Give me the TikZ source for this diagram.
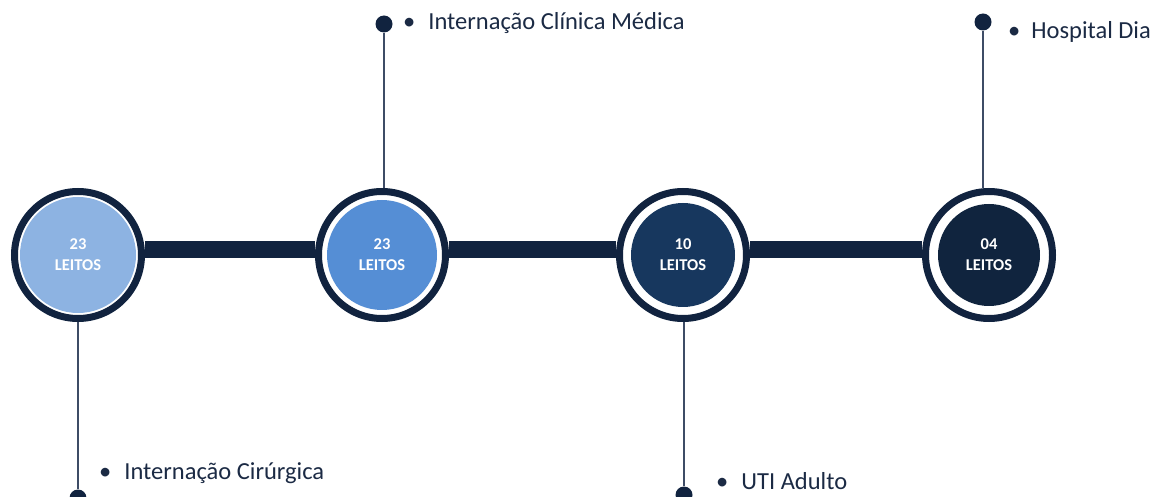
\documentclass[tikz,border=0pt]{standalone}
\usepackage{fontspec}
\setmainfont{Carlito}
\definecolor{navy}{HTML}{11233F}
\definecolor{stemcol}{HTML}{3E4C66}
\definecolor{labelcol}{HTML}{1B2A44}
\definecolor{fillA}{HTML}{8DB3E2}
\definecolor{fillB}{HTML}{558ED5}
\definecolor{fillC}{HTML}{17375E}
\definecolor{fillD}{HTML}{10243E}
\tikzset{
  ring/.style={circle,draw=navy,fill=white,line width=7pt,minimum size=127pt,inner sep=0pt},
  core/.style={circle,minimum size=#1,inner sep=0pt,text=white,align=center,
    font=\fontsize{16.5}{21}\selectfont\bfseries},
  dot/.style={circle,fill=navy,minimum size=17pt,inner sep=0pt},
  stem/.style={draw=stemcol,line width=1.2pt},
  bar/.style={draw=navy,line width=17pt},
  lbl/.style={anchor=base west,inner sep=0pt,text=labelcol,font=\fontsize{24.5}{28}\selectfont}
}
\begin{document}
\begin{tikzpicture}[x=1pt,y=-1pt]
  \useasboundingbox (0,0) rectangle (1152,497);
  % rings on the timeline
  \foreach \n/\x in {1/78,2/382,3/683,4/989}
    \node[ring] (c\n) at (\x,255) {};
  \draw[bar] ([yshift=5pt]c1.east) -- ([yshift=5pt]c2.west);
  \draw[bar] ([yshift=5pt]c2.east) -- ([yshift=5pt]c3.west);
  \draw[bar] ([yshift=5pt]c3.east) -- ([yshift=5pt]c4.west);
  \node[core=116pt,fill=fillA] (f1) at (c1) {23\\LEITOS};
  \node[core=110pt,fill=fillB] (f2) at (c2) {23\\LEITOS};
  \node[core=104pt,fill=fillC] (f3) at (c3) {10\\LEITOS};
  \node[core=102pt,fill=fillD] (f4) at (c4) {04\\LEITOS};
  % pins
  \node[dot] (d1) at (78,498) {};
  \node[dot] (d2) at (384,24) {};
  \node[dot] (d3) at (684,495) {};
  \node[dot] (d4) at (983,22) {};
  \draw[stem] (c1.south) -- (d1);
  \draw[stem] (d2) -- (d2 |- c2.north);
  \draw[stem] (d3 |- c3.south) -- (d3);
  \draw[stem] (d4) -- (d4 |- c4.north);
  % labels
  \node[lbl] (t1) at (99,479) {•\hspace{13pt}Internação Cirúrgica};
  \node[lbl] (t2) at (403,30) {•\hspace{13pt}Internação Clínica Médica};
  \node[lbl] (t3) at (716,489) {•\hspace{13pt}UTI Adulto};
  \node[lbl] (t4) at (1008,39) {•\hspace{11pt}Hospital Dia};
\end{tikzpicture}
\end{document}
